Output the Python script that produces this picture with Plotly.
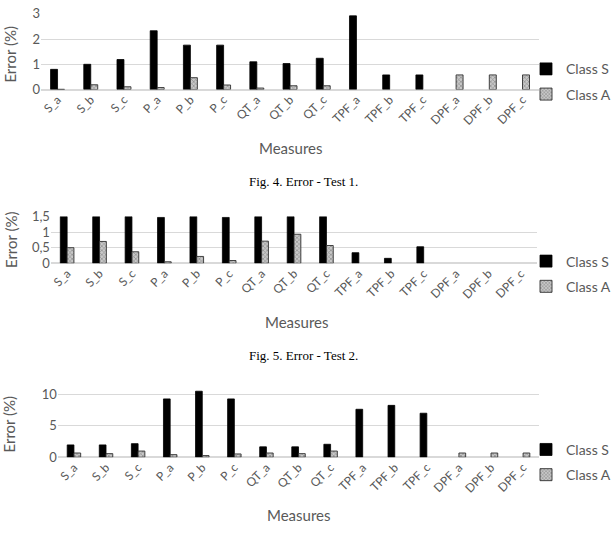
import plotly.graph_objects as go

categories = ["S_a", "S_b", "S_c", "P_a", "P_b", "P_c", "QT_a", "QT_b", "QT_c",
              "TPF_a", "TPF_b", "TPF_c", "DPF_a", "DPF_b", "DPF_c"]

# None = no bar drawn (zero error)
t1_class_s = [0.8, 1.0, 1.19, 2.33, 1.76, 1.76, 1.1, 1.03, 1.24, 2.92, 0.58, 0.58, None, None, None]
t1_class_a = [0.01, 0.19, 0.11, 0.08, 0.47, 0.18, 0.06, 0.15, 0.15, None, None, None, 0.58, 0.58, 0.58]

t2_class_s = [1.5, 1.5, 1.5, 1.47, 1.5, 1.47, 1.5, 1.5, 1.5, 0.34, 0.16, 0.53, None, None, None]
t2_class_a = [0.5, 0.7, 0.37, 0.05, 0.22, 0.09, 0.71, 0.93, 0.57, None, None, None, None, None, None]

t3_class_s = [1.96, 1.96, 2.16, 9.28, 10.5, 9.28, 1.65, 1.65, 2.06, 7.63, 8.25, 7.0, None, None, None]
t3_class_a = [0.67, 0.57, 0.98, 0.41, 0.26, 0.52, 0.67, 0.57, 0.98, None, None, None, 0.67, 0.67, 0.67]

y1_ticks = [0, 1, 2, 3]
y1_text = ["0", "1", "2", "3"]
y2_ticks = [0, 0.5, 1, 1.5]
y2_text = ["0", "0,5", "1", "1,5"]
y3_ticks = [0, 5, 10]
y3_text = ["0", "5", "10"]

series_names = ["Class S", "Class A"]
captions = ["Fig. 4. Error - Test 1.", "Fig. 5. Error - Test 2."]

W, H = 616, 549


def px(x):
    return x / W


def py(y):
    return 1 - y / H


FONT = "Lato, 'Open Sans', sans-serif"
GRAY = "#595959"

fig = go.Figure()

panels = [
    (t1_class_s, t1_class_a, 40, 539, 84, 6, [0, 3], y1_ticks, y1_text, 76),
    (t2_class_s, t2_class_a, 50, 537, 263, 214.7, [0, 1.5], y2_ticks, y2_text, 274),
    (t3_class_s, t3_class_a, 57, 539, 462.7, 391.5, [0, 11], y3_ticks, y3_text, 468),
]

for i, (s, a, x0, x1, yb, yt, rng, tv, tt, ly) in enumerate(panels):
    n = "" if i == 0 else str(i + 1)
    leg = "legend" + n
    fig.add_trace(go.Bar(
        x=categories, y=s, name=series_names[0], xaxis="x" + n, yaxis="y" + n,
        legend=leg, legendgroup="s" + n,
        marker=dict(color="black", line=dict(color="black", width=0.8)),
    ))
    fig.add_trace(go.Bar(
        x=categories, y=a, name=series_names[1], xaxis="x" + n, yaxis="y" + n,
        legend=leg, legendgroup="a" + n,
        marker=dict(color="#c8c8c8", line=dict(color="#303030", width=0.9),
                    pattern=dict(shape="x", fgcolor="#555555", size=3, solidity=0.4)),
    ))
    fig.layout["xaxis" + n] = dict(
        domain=[px(x0), px(x1)], anchor="y" + n, tickangle=-45,
        tickfont=dict(family=FONT, size=12, color=GRAY), showline=False,
        showgrid=False, ticks="", fixedrange=True,
    )
    fig.layout["yaxis" + n] = dict(
        domain=[py(yb), py(yt)], anchor="x" + n, range=rng, tickvals=tv, ticktext=tt,
        tickfont=dict(family=FONT, size=13, color=GRAY), showgrid=True,
        gridcolor="#d9d9d9", gridwidth=1, zeroline=True, zerolinecolor="#d9d9d9",
        showline=False, ticks="",
    )
    fig.layout[leg] = dict(
        x=1.0, y=py(ly), xanchor="right", yanchor="middle",
        font=dict(family=FONT, size=14, color=GRAY), bgcolor="rgba(0,0,0,0)",
        tracegroupgap=4, itemwidth=30,
    )

annotations = []
ytitle_pos = [(9, 47), (10, 238), (8, 428)]
meas_pos = [(290, 144), (296, 323), (298, 522)]
for (xx, yy) in ytitle_pos:
    annotations.append(dict(text="Error (%)", x=px(xx), y=py(yy), xref="paper", yref="paper",
                            textangle=-90, showarrow=False, xanchor="center", yanchor="middle",
                            font=dict(family=FONT, size=15, color=GRAY)))
for (xx, yy) in meas_pos:
    annotations.append(dict(text="Measures", x=px(xx), y=py(yy), xref="paper", yref="paper",
                            showarrow=False, xanchor="center", yanchor="middle",
                            font=dict(family=FONT, size=15, color=GRAY)))
for cap, (xx, yy) in zip(captions, [(303, 179), (303, 358)]):
    annotations.append(dict(text=cap, x=px(xx), y=py(yy), xref="paper", yref="paper",
                            showarrow=False, xanchor="center", yanchor="middle",
                            font=dict(family="Liberation Serif, Times New Roman, serif",
                                      size=13, color="black")))

fig.update_layout(
    width=W, height=H, margin=dict(l=0, r=0, t=0, b=0),
    paper_bgcolor="white", plot_bgcolor="white",
    barmode="group", bargap=0.58, bargroupgap=0.0,
    annotations=annotations, showlegend=True,
)

fig.write_html("out.html")
